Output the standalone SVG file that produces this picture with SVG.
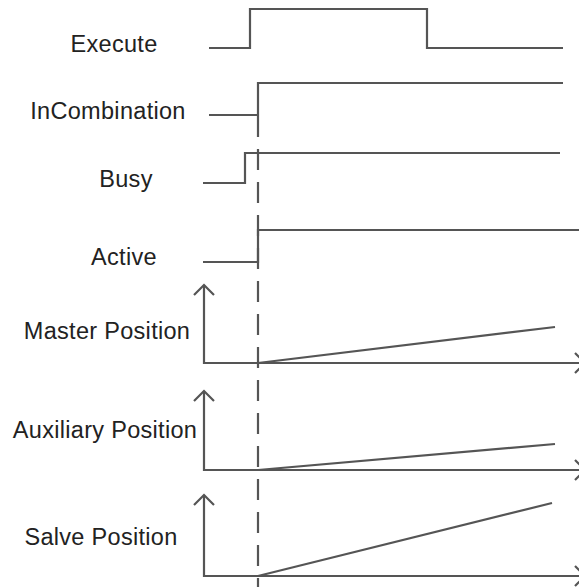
<svg xmlns="http://www.w3.org/2000/svg" width="579" height="587" viewBox="0 0 579 587">
  <style>
    .sig { fill: none; stroke: #555; stroke-width: 2.2; stroke-linejoin: miter; }
    .axis { fill: none; stroke: #555; stroke-width: 2.2; }
    .ramp { fill: none; stroke: #555; stroke-width: 2.2; }
    .dash { fill: none; stroke: #555; stroke-width: 2.2; stroke-dasharray: 21 12; }
    .lbl { font-family: "Liberation Sans", Arial, sans-serif; font-size: 23.5px; fill: #222; text-anchor: middle; letter-spacing: 0.3px; }
  </style>
  <rect width="579" height="587" fill="#fff"/>

  <!-- Digital signals -->
  <g id="execute">
    <text class="lbl" x="114" y="52">Execute</text>
    <polyline class="sig" points="209,48 250,48 250,9 427,9 427,48 563,48"/>
  </g>
  <g id="incombination">
    <text class="lbl" x="108" y="119">InCombination</text>
    <polyline class="sig" points="209,115 258,115 258,83 563,83"/>
  </g>
  <g id="busy">
    <text class="lbl" x="126" y="187">Busy</text>
    <polyline class="sig" points="203,183 245,183 245,153 560,153"/>
  </g>
  <g id="active">
    <text class="lbl" x="124" y="265">Active</text>
    <polyline class="sig" points="203,262 258,262 258,230 579,230"/>
  </g>

  <!-- Analog position traces -->
  <g id="master-position">
    <text class="lbl" x="107" y="339">Master Position</text>
    <polyline class="axis" points="204,285 204,363 585,363"/>
    <polyline class="axis" points="194,295 204,285 214,295"/>
    <polyline class="axis" points="575,353 585,363 575,373"/>
    <line class="ramp" x1="258" y1="363" x2="555" y2="327"/>
  </g>
  <g id="auxiliary-position">
    <text class="lbl" x="105" y="438">Auxiliary Position</text>
    <polyline class="axis" points="204,391 204,470 585,470"/>
    <polyline class="axis" points="194,401 204,391 214,401"/>
    <polyline class="axis" points="575,460 585,470 575,480"/>
    <line class="ramp" x1="258" y1="470" x2="555" y2="444"/>
  </g>
  <g id="salve-position">
    <text class="lbl" x="101" y="545">Salve Position</text>
    <polyline class="axis" points="204,495 204,576 585,576"/>
    <polyline class="axis" points="194,505 204,495 214,505"/>
    <polyline class="axis" points="575,566 585,576 575,586"/>
    <line class="ramp" x1="258" y1="576" x2="552" y2="503"/>
  </g>

  <!-- Trigger marker -->
  <g id="connectors">
    <line class="dash" x1="258" y1="116" x2="258" y2="587"/>
  </g>
</svg>
